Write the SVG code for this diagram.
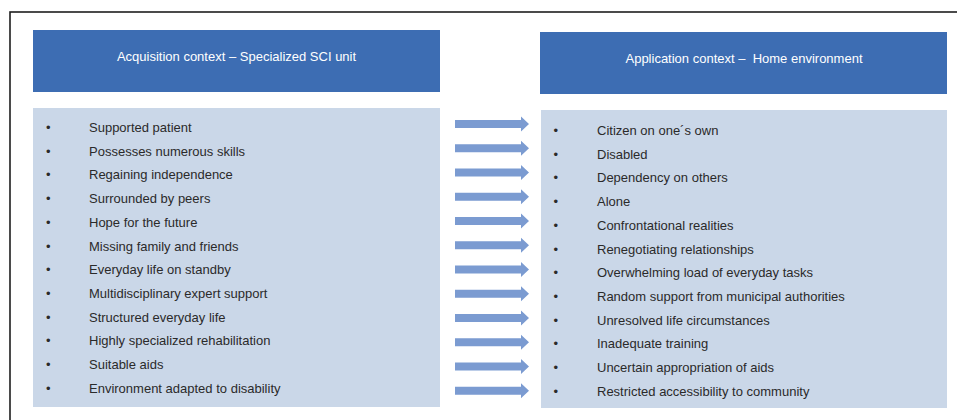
<svg xmlns="http://www.w3.org/2000/svg" width="957" height="420" viewBox="0 0 957 420">
  <style>
    .frame { fill: none; stroke: #1f1f1f; stroke-width: 1.6; }
    .head { fill: #3d6db3; }
    .list { fill: #cad7e8; }
    .htxt { font-family: "Liberation Sans", Arial, sans-serif; font-size: 13px; fill: #ffffff; text-anchor: middle; }
    .itxt { font-family: "Liberation Sans", Arial, sans-serif; font-size: 13px; fill: #2a2a2a; }
    .arrow { fill: #7b9bd1; }
  </style>
  <defs>
    <path id="arr" class="arrow" d="M0,-4 L66,-4 L66,-7.5 L74,0 L66,7.5 L66,4 L0,4 Z"/>
  </defs>
  <rect width="957" height="420" fill="#ffffff"/>
  <rect class="frame" x="10" y="12" width="960" height="420"/>

  <g id="acquisition-header">
    <rect class="head" x="33" y="30" width="407" height="62"/>
    <text class="htxt" x="236.5" y="60.5">Acquisition context – Specialized SCI unit</text>
  </g>

  <g id="application-header">
    <rect class="head" x="540" y="32" width="407" height="62"/>
    <text class="htxt" x="744" y="62.5" xml:space="preserve">Application context –  Home environment</text>
  </g>

  <g id="acquisition-list">
    <rect class="list" x="33" y="108" width="407" height="299"/>
    <g class="itxt">
      <text x="46" y="132">•</text><text x="89" y="132">Supported patient</text>
      <text x="46" y="155.7">•</text><text x="89" y="155.7">Possesses numerous skills</text>
      <text x="46" y="179.4">•</text><text x="89" y="179.4">Regaining independence</text>
      <text x="46" y="203.1">•</text><text x="89" y="203.1">Surrounded by peers</text>
      <text x="46" y="226.8">•</text><text x="89" y="226.8">Hope for the future</text>
      <text x="46" y="250.5">•</text><text x="89" y="250.5">Missing family and friends</text>
      <text x="46" y="274.2">•</text><text x="89" y="274.2">Everyday life on standby</text>
      <text x="46" y="297.9">•</text><text x="89" y="297.9">Multidisciplinary expert support</text>
      <text x="46" y="321.6">•</text><text x="89" y="321.6">Structured everyday life</text>
      <text x="46" y="345.3">•</text><text x="89" y="345.3">Highly specialized rehabilitation</text>
      <text x="46" y="369">•</text><text x="89" y="369">Suitable aids</text>
      <text x="46" y="392.7">•</text><text x="89" y="392.7">Environment adapted to disability</text>
    </g>
  </g>

  <g id="application-list">
    <rect class="list" x="541" y="110" width="406" height="298"/>
    <g class="itxt">
      <text x="553.5" y="135">•</text><text x="597" y="135">Citizen on one´s own</text>
      <text x="553.5" y="158.7">•</text><text x="597" y="158.7">Disabled</text>
      <text x="553.5" y="182.4">•</text><text x="597" y="182.4">Dependency on others</text>
      <text x="553.5" y="206.1">•</text><text x="597" y="206.1">Alone</text>
      <text x="553.5" y="229.8">•</text><text x="597" y="229.8">Confrontational realities</text>
      <text x="553.5" y="253.5">•</text><text x="597" y="253.5">Renegotiating relationships</text>
      <text x="553.5" y="277.2">•</text><text x="597" y="277.2">Overwhelming load of everyday tasks</text>
      <text x="553.5" y="300.9">•</text><text x="597" y="300.9">Random support from municipal authorities</text>
      <text x="553.5" y="324.6">•</text><text x="597" y="324.6">Unresolved life circumstances</text>
      <text x="553.5" y="348.3">•</text><text x="597" y="348.3">Inadequate training</text>
      <text x="553.5" y="372">•</text><text x="597" y="372">Uncertain appropriation of aids</text>
      <text x="553.5" y="395.7">•</text><text x="597" y="395.7">Restricted accessibility to community</text>
    </g>
  </g>

  <g id="connectors">
    <use href="#arr" x="455" y="124"/>
    <use href="#arr" x="455" y="148.2"/>
    <use href="#arr" x="455" y="172.5"/>
    <use href="#arr" x="455" y="196.7"/>
    <use href="#arr" x="455" y="221"/>
    <use href="#arr" x="455" y="245.2"/>
    <use href="#arr" x="455" y="269.5"/>
    <use href="#arr" x="455" y="293.7"/>
    <use href="#arr" x="455" y="318"/>
    <use href="#arr" x="455" y="342.2"/>
    <use href="#arr" x="455" y="366.5"/>
    <use href="#arr" x="455" y="390.7"/>
  </g>
</svg>
